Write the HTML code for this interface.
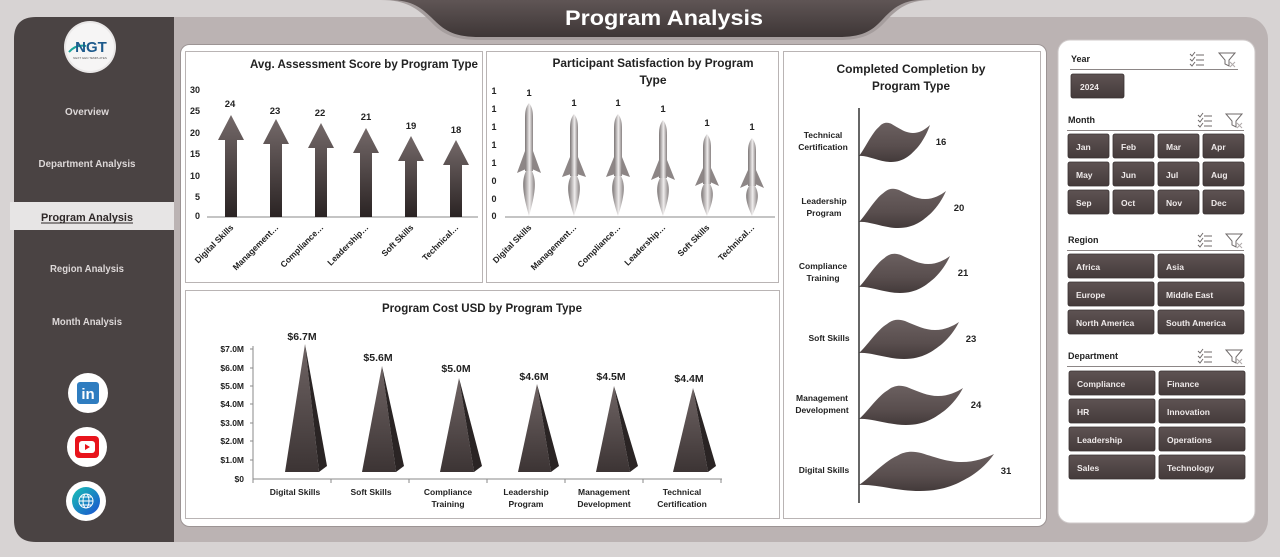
<!DOCTYPE html>
<html><head><meta charset="utf-8"><style>
html,body{margin:0;padding:0;background:#d7d3d3;}
svg{display:block;font-family:"Liberation Sans",Arial,sans-serif;}
</style></head><body>
<svg width="1280" height="557" viewBox="0 0 1280 557" xmlns="http://www.w3.org/2000/svg">
<defs>
<linearGradient id="gArrow" x1="0" y1="0" x2="0" y2="1"><stop offset="0" stop-color="#746969"/><stop offset="1" stop-color="#2a2323"/></linearGradient>
<linearGradient id="gRocket" x1="0" y1="0" x2="1" y2="0"><stop offset="0" stop-color="#7a7474"/><stop offset="0.45" stop-color="#d8d5d5"/><stop offset="0.55" stop-color="#f0eeee"/><stop offset="1" stop-color="#878181"/></linearGradient>
<linearGradient id="gPyr" x1="0" y1="0" x2="0" y2="1"><stop offset="0" stop-color="#6f6464"/><stop offset="1" stop-color="#3c3434"/></linearGradient>
<linearGradient id="gFlag" x1="0" y1="0" x2="0" y2="1"><stop offset="0" stop-color="#6b6060"/><stop offset="0.6" stop-color="#594e4e"/><stop offset="1" stop-color="#433a3a"/></linearGradient>
<linearGradient id="gBtn" x1="0" y1="0" x2="0" y2="1"><stop offset="0" stop-color="#5e5353"/><stop offset="1" stop-color="#443b3b"/></linearGradient>
<linearGradient id="gHead" x1="0" y1="0" x2="0" y2="1"><stop offset="0" stop-color="#5f5555"/><stop offset="1" stop-color="#3e3636"/></linearGradient>
<linearGradient id="gGlobe" x1="0" y1="0" x2="1" y2="1"><stop offset="0" stop-color="#19c3b5"/><stop offset="1" stop-color="#1a4fd0"/></linearGradient>
<path id="flag" d="M0,15 C8,8 18,-8 28,-14 C34,-19 40,-19 46,-17 C58,-12 66,-8 76,-8 C86,-8 94,-12 100,-16 C96,-8 90,0 83,6 C74,13 64,21 45,21 C28,21 12,14 0,15 Z"/>
</defs>

<rect x="0" y="0" width="1280" height="557" fill="#d7d3d3"/>
<rect x="14" y="17" width="1254" height="525" rx="22" fill="#bbb3b3"/>
<path d="M36,17 L174,17 L174,542 L36,542 Q14,542 14,520 L14,39 Q14,17 36,17 Z" fill="#4a4343"/>

<path d="M380,0 C406,0 417,8 430,21 C443,35 455,40 480,40 L838,40 C862,40 873,35 886,21 C898,8 909,0 932,0 Z" fill="#a59d9d"/>
<path d="M390,0 C412,0 422,8 434,20 C446,32 456,37 480,37 L838,37 C861,37 871,32 882,20 C893,8 903,0 922,0 Z" fill="url(#gHead)"/>
<text x="664" y="25" text-anchor="middle" font-size="21" font-weight="bold" fill="#ffffff" textLength="198" lengthAdjust="spacingAndGlyphs">Program  Analysis</text>

<circle cx="90" cy="47" r="26" fill="#e9e7e7"/>
<circle cx="90" cy="47" r="24" fill="#f6f5f5"/>
<path d="M69,52 Q76,44 86,46" stroke="#1aa59a" stroke-width="2" fill="none"/>
<text x="91" y="52" text-anchor="middle" font-size="15" font-weight="bold" fill="#1d5a8c">NGT</text>
<text x="90" y="59" text-anchor="middle" font-size="3" fill="#555">NEXT GEN TEMPLATES</text>

<g font-size="10.5" font-weight="bold" fill="#ddd8d8" text-anchor="middle">
<text x="87" y="115" textLength="44" lengthAdjust="spacingAndGlyphs">Overview</text>
<text x="87" y="167" textLength="97" lengthAdjust="spacingAndGlyphs">Department Analysis</text>
<text x="87" y="272" textLength="74" lengthAdjust="spacingAndGlyphs">Region Analysis</text>
<text x="87" y="325" textLength="70" lengthAdjust="spacingAndGlyphs">Month Analysis</text>
</g>
<rect x="10" y="202" width="164" height="28" fill="#e7e5e5"/>
<text x="87" y="221" text-anchor="middle" font-size="11" font-weight="bold" fill="#2e2828" textLength="92" lengthAdjust="spacingAndGlyphs">Program  Analysis</text>
<line x1="41" y1="223" x2="133" y2="223" stroke="#2e2828" stroke-width="1"/>

<circle cx="88" cy="393" r="20" fill="#ffffff"/>
<rect x="77" y="382" width="22" height="22" rx="3" fill="#2f7dc0"/>
<text x="88" y="399" text-anchor="middle" font-size="15" font-weight="bold" fill="#ffffff">in</text>
<circle cx="87" cy="447" r="20" fill="#ffffff"/>
<rect x="75" y="436" width="24" height="22" rx="4" fill="#e8141c"/>
<rect x="79" y="441" width="16" height="12" rx="3" fill="#ffffff"/>
<path d="M85,444 L90,447 L85,450 Z" fill="#e8141c"/>
<circle cx="86" cy="501" r="20" fill="#ffffff"/>
<circle cx="86" cy="501" r="14" fill="url(#gGlobe)"/>
<g stroke="#ffffff" stroke-width="1" fill="none"><circle cx="86" cy="501" r="7"/><ellipse cx="86" cy="501" rx="3" ry="7"/><line x1="79" y1="501" x2="93" y2="501"/><line x1="80" y1="497" x2="92" y2="497"/><line x1="80" y1="505" x2="92" y2="505"/></g>

<rect x="180.5" y="44.5" width="866" height="482" rx="9" fill="#ffffff" stroke="#9c9494"/>

<g fill="#ffffff" stroke="#b9b4b4">
<rect x="185.5" y="51.5" width="297" height="231"/>
<rect x="486.5" y="51.5" width="292" height="231"/>
<rect x="185.5" y="290.5" width="594" height="228"/>
<rect x="783.5" y="51.5" width="257" height="467"/>
</g>

<!-- Chart 1 -->
<text x="478" y="68" text-anchor="end" font-size="12" font-weight="bold" fill="#222" textLength="228" lengthAdjust="spacingAndGlyphs">Avg. Assessment Score by Program Type</text>
<g font-size="9" font-weight="bold" fill="#222" text-anchor="end">
<text x="200" y="93">30</text><text x="200" y="114">25</text><text x="200" y="136">20</text><text x="200" y="157">15</text><text x="200" y="179">10</text><text x="200" y="200">5</text><text x="200" y="219">0</text>
</g>
<line x1="207" y1="217" x2="478" y2="217" stroke="#8a8a8a"/>
<g fill="url(#gArrow)">
<path d="M231,115 L244,140 L237,140 L237,217 L225,217 L225,140 L218,140 Z"/>
<path d="M276,119 L289,144 L282,144 L282,217 L270,217 L270,144 L263,144 Z"/>
<path d="M321,123 L334,148 L327,148 L327,217 L315,217 L315,148 L308,148 Z"/>
<path d="M366,128 L379,153 L372,153 L372,217 L360,217 L360,153 L353,153 Z"/>
<path d="M411,136 L424,161 L417,161 L417,217 L405,217 L405,161 L398,161 Z"/>
<path d="M456,140 L469,165 L462,165 L462,217 L450,217 L450,165 L443,165 Z"/>
</g>
<g font-size="9.5" font-weight="bold" fill="#222" text-anchor="middle">
<text x="230" y="107">24</text><text x="275" y="114">23</text><text x="320" y="116">22</text><text x="366" y="120">21</text><text x="411" y="129">19</text><text x="456" y="133">18</text>
</g>
<g font-size="8.5" font-weight="bold" fill="#222" text-anchor="end">
<text transform="translate(234,228) rotate(-45)">Digital Skills</text>
<text transform="translate(279,228) rotate(-45)">Management…</text>
<text transform="translate(324,228) rotate(-45)">Compliance…</text>
<text transform="translate(369,228) rotate(-45)">Leadership…</text>
<text transform="translate(414,228) rotate(-45)">Soft Skills</text>
<text transform="translate(459,228) rotate(-45)">Technical…</text>
</g>

<!-- Chart 2 -->
<g font-size="12" font-weight="bold" fill="#222" text-anchor="middle">
<text x="653" y="67" textLength="201" lengthAdjust="spacingAndGlyphs">Participant Satisfaction by Program</text>
<text x="653" y="84">Type</text>
</g>
<g font-size="9" font-weight="bold" fill="#222" text-anchor="middle">
<text x="494" y="94">1</text><text x="494" y="112">1</text><text x="494" y="130">1</text><text x="494" y="148">1</text><text x="494" y="166">1</text><text x="494" y="184">0</text><text x="494" y="202">0</text><text x="494" y="219">0</text>
</g>
<line x1="505" y1="217" x2="775" y2="217" stroke="#8a8a8a"/>
<g>
<g transform="translate(529,103)">
<path d="M0,0 C4,5 4,10 4,18 L4,68 L-4,68 L-4,18 C-4,10 -4,5 0,0 Z" fill="url(#gRocket)"/>
<path d="M-4,48 L-12,70 L-3,66 Z M4,48 L12,70 L3,66 Z" fill="#8d8686"/>
<path d="M-3,68 C-8,78 -6,92 0,113 C6,92 8,78 3,68 Z" fill="url(#gRocket)"/>
</g>
<g transform="translate(574,114)">
<path d="M0,0 C4,5 4,10 4,18 L4,62 L-4,62 L-4,18 C-4,10 -4,5 0,0 Z" fill="url(#gRocket)"/>
<path d="M-4,43 L-12,63 L-3,60 Z M4,43 L12,63 L3,60 Z" fill="#8d8686"/>
<path d="M-3,62 C-8,71 -6,84 0,102 C6,84 8,71 3,62 Z" fill="url(#gRocket)"/>
</g>
<g transform="translate(618,114)">
<path d="M0,0 C4,5 4,10 4,18 L4,62 L-4,62 L-4,18 C-4,10 -4,5 0,0 Z" fill="url(#gRocket)"/>
<path d="M-4,43 L-12,63 L-3,60 Z M4,43 L12,63 L3,60 Z" fill="#8d8686"/>
<path d="M-3,62 C-8,71 -6,84 0,102 C6,84 8,71 3,62 Z" fill="url(#gRocket)"/>
</g>
<g transform="translate(663,120)">
<path d="M0,0 C4,5 4,10 4,18 L4,58 L-4,58 L-4,18 C-4,10 -4,5 0,0 Z" fill="url(#gRocket)"/>
<path d="M-4,40 L-12,60 L-3,56 Z M4,40 L12,60 L3,56 Z" fill="#8d8686"/>
<path d="M-3,58 C-8,67 -6,79 0,96 C6,79 8,67 3,58 Z" fill="url(#gRocket)"/>
</g>
<g transform="translate(707,134)">
<path d="M0,0 C4,5 4,10 4,16 L4,50 L-4,50 L-4,16 C-4,10 -4,5 0,0 Z" fill="url(#gRocket)"/>
<path d="M-4,34 L-12,52 L-3,48 Z M4,34 L12,52 L3,48 Z" fill="#8d8686"/>
<path d="M-3,50 C-8,58 -6,68 0,82 C6,68 8,58 3,50 Z" fill="url(#gRocket)"/>
</g>
<g transform="translate(752,138)">
<path d="M0,0 C4,5 4,10 4,16 L4,48 L-4,48 L-4,16 C-4,10 -4,5 0,0 Z" fill="url(#gRocket)"/>
<path d="M-4,32 L-12,50 L-3,46 Z M4,32 L12,50 L3,46 Z" fill="#8d8686"/>
<path d="M-3,48 C-8,56 -6,65 0,78 C6,65 8,56 3,48 Z" fill="url(#gRocket)"/>
</g>
</g>
<g font-size="9.5" font-weight="bold" fill="#222" text-anchor="middle">
<text x="529" y="96">1</text><text x="574" y="106">1</text><text x="618" y="106">1</text><text x="663" y="112">1</text><text x="707" y="126">1</text><text x="752" y="130">1</text>
</g>
<g font-size="8.5" font-weight="bold" fill="#222" text-anchor="end">
<text transform="translate(532,228) rotate(-45)">Digital Skills</text>
<text transform="translate(577,228) rotate(-45)">Management…</text>
<text transform="translate(621,228) rotate(-45)">Compliance…</text>
<text transform="translate(666,228) rotate(-45)">Leadership…</text>
<text transform="translate(710,228) rotate(-45)">Soft Skills</text>
<text transform="translate(755,228) rotate(-45)">Technical…</text>
</g>

<!-- Chart 3 -->
<text x="482" y="312" text-anchor="middle" font-size="12" font-weight="bold" fill="#222" textLength="200" lengthAdjust="spacingAndGlyphs">Program Cost USD by Program Type</text>
<g font-size="8.5" font-weight="bold" fill="#222" text-anchor="end">
<text x="244" y="352">$7.0M</text><text x="244" y="371">$6.0M</text><text x="244" y="389">$5.0M</text><text x="244" y="407">$4.0M</text><text x="244" y="426">$3.0M</text><text x="244" y="444">$2.0M</text><text x="244" y="463">$1.0M</text><text x="244" y="482">$0</text>
</g>
<g stroke="#8a8a8a">
<line x1="253" y1="346" x2="253" y2="479"/>
<line x1="250" y1="349" x2="253" y2="349"/><line x1="250" y1="368" x2="253" y2="368"/><line x1="250" y1="386" x2="253" y2="386"/><line x1="250" y1="404" x2="253" y2="404"/><line x1="250" y1="423" x2="253" y2="423"/><line x1="250" y1="441" x2="253" y2="441"/><line x1="250" y1="460" x2="253" y2="460"/>
<line x1="253" y1="479" x2="722" y2="479"/>
<line x1="253" y1="479" x2="253" y2="483"/><line x1="331" y1="479" x2="331" y2="483"/><line x1="409" y1="479" x2="409" y2="483"/><line x1="487" y1="479" x2="487" y2="483"/><line x1="565" y1="479" x2="565" y2="483"/><line x1="643" y1="479" x2="643" y2="483"/><line x1="721" y1="479" x2="721" y2="483"/>
</g>
<g>
<path d="M285,472 L319,472 L305,344 Z" fill="url(#gPyr)"/><path d="M319,472 L327,466 L305,344 Z" fill="#2a2424"/>
<path d="M362,472 L396,472 L382,366 Z" fill="url(#gPyr)"/><path d="M396,472 L404,466 L382,366 Z" fill="#2a2424"/>
<path d="M440,472 L474,472 L459,378 Z" fill="url(#gPyr)"/><path d="M474,472 L482,466 L459,378 Z" fill="#2a2424"/>
<path d="M518,472 L551,472 L537,384 Z" fill="url(#gPyr)"/><path d="M551,472 L559,466 L537,384 Z" fill="#2a2424"/>
<path d="M596,472 L630,472 L614,386 Z" fill="url(#gPyr)"/><path d="M630,472 L638,466 L614,386 Z" fill="#2a2424"/>
<path d="M673,472 L708,472 L693,388 Z" fill="url(#gPyr)"/><path d="M708,472 L716,466 L693,388 Z" fill="#2a2424"/>
</g>
<g font-size="10.5" font-weight="bold" fill="#222" text-anchor="middle">
<text x="302" y="340">$6.7M</text><text x="378" y="361">$5.6M</text><text x="456" y="372">$5.0M</text><text x="534" y="380">$4.6M</text><text x="611" y="380">$4.5M</text><text x="689" y="382">$4.4M</text>
</g>
<g font-size="8.5" font-weight="bold" fill="#222" text-anchor="middle">
<text x="295" y="495">Digital Skills</text>
<text x="371" y="495">Soft Skills</text>
<text x="448" y="495">Compliance</text><text x="448" y="507">Training</text>
<text x="526" y="495">Leadership</text><text x="526" y="507">Program</text>
<text x="604" y="495">Management</text><text x="604" y="507">Development</text>
<text x="682" y="495">Technical</text><text x="682" y="507">Certification</text>
</g>

<!-- Chart 4 -->
<g font-size="12" font-weight="bold" fill="#222" text-anchor="middle">
<text x="911" y="73" textLength="149" lengthAdjust="spacingAndGlyphs">Completed Completion by</text>
<text x="911" y="90" textLength="78" lengthAdjust="spacingAndGlyphs">Program Type</text>
</g>
<g fill="url(#gFlag)">
<use href="#flag" transform="translate(859,141) scale(0.71,1)"/>
<use href="#flag" transform="translate(859,207) scale(0.87,1)"/>
<use href="#flag" transform="translate(859,272) scale(0.91,1)"/>
<use href="#flag" transform="translate(859,338) scale(1.00,1)"/>
<use href="#flag" transform="translate(859,404) scale(1.04,1)"/>
<use href="#flag" transform="translate(859,470) scale(1.35,1)"/>
</g>
<line x1="859" y1="108" x2="859" y2="503" stroke="#333" stroke-width="1.5"/>
<g font-size="8.5" font-weight="bold" fill="#222" text-anchor="middle">
<text x="823" y="138">Technical</text><text x="823" y="150">Certification</text>
<text x="824" y="204">Leadership</text><text x="824" y="216">Program</text>
<text x="823" y="269">Compliance</text><text x="823" y="281">Training</text>
<text x="829" y="341">Soft Skills</text>
<text x="822" y="401">Management</text><text x="822" y="413">Development</text>
<text x="824" y="473">Digital Skills</text>
</g>
<g font-size="9.5" font-weight="bold" fill="#222" text-anchor="middle">
<text x="941" y="145">16</text><text x="959" y="211">20</text><text x="963" y="276">21</text><text x="971" y="342">23</text><text x="976" y="408">24</text><text x="1006" y="474">31</text>
</g>

<!-- Slicer panel -->
<rect x="1058" y="40" width="197" height="483" rx="12" fill="#ffffff" stroke="#cfcaca"/>
<g font-size="9" font-weight="bold" fill="#222">
<text x="1071" y="62">Year</text>
<text x="1068" y="123">Month</text>
<text x="1068" y="243">Region</text>
<text x="1068" y="359">Department</text>
</g>
<g stroke="#8c8686" stroke-width="1">
<line x1="1070" y1="69.5" x2="1238" y2="69.5"/>
<line x1="1067" y1="130.5" x2="1244" y2="130.5"/>
<line x1="1067" y1="250.5" x2="1244" y2="250.5"/>
<line x1="1067" y1="366.5" x2="1245" y2="366.5"/>
</g>
<g stroke="#6f6a6a" stroke-width="1" fill="none">
<g transform="translate(1197,59)"><path d="M-7,-5 l2,2 l3,-4 M-7,0 l2,2 l3,-4 M-7,5 l2,2 l3,-4"/><line x1="-1" y1="-4" x2="7" y2="-4"/><line x1="-1" y1="1" x2="7" y2="1"/><line x1="-1" y1="6" x2="7" y2="6"/></g>
<g transform="translate(1227,59)"><path d="M-8,-6 L8,-6 L2,1 L2,7 L-2,5 L-2,1 Z"/><path d="M3,3 l5,5 M8,3 l-5,5" stroke="#b0aaaa"/></g>
<g transform="translate(1205,120)"><path d="M-7,-5 l2,2 l3,-4 M-7,0 l2,2 l3,-4 M-7,5 l2,2 l3,-4"/><line x1="-1" y1="-4" x2="7" y2="-4"/><line x1="-1" y1="1" x2="7" y2="1"/><line x1="-1" y1="6" x2="7" y2="6"/></g>
<g transform="translate(1234,120)"><path d="M-8,-6 L8,-6 L2,1 L2,7 L-2,5 L-2,1 Z"/><path d="M3,3 l5,5 M8,3 l-5,5" stroke="#b0aaaa"/></g>
<g transform="translate(1205,240)"><path d="M-7,-5 l2,2 l3,-4 M-7,0 l2,2 l3,-4 M-7,5 l2,2 l3,-4"/><line x1="-1" y1="-4" x2="7" y2="-4"/><line x1="-1" y1="1" x2="7" y2="1"/><line x1="-1" y1="6" x2="7" y2="6"/></g>
<g transform="translate(1234,240)"><path d="M-8,-6 L8,-6 L2,1 L2,7 L-2,5 L-2,1 Z"/><path d="M3,3 l5,5 M8,3 l-5,5" stroke="#b0aaaa"/></g>
<g transform="translate(1205,356)"><path d="M-7,-5 l2,2 l3,-4 M-7,0 l2,2 l3,-4 M-7,5 l2,2 l3,-4"/><line x1="-1" y1="-4" x2="7" y2="-4"/><line x1="-1" y1="1" x2="7" y2="1"/><line x1="-1" y1="6" x2="7" y2="6"/></g>
<g transform="translate(1234,356)"><path d="M-8,-6 L8,-6 L2,1 L2,7 L-2,5 L-2,1 Z"/><path d="M3,3 l5,5 M8,3 l-5,5" stroke="#b0aaaa"/></g>
</g>
<g fill="url(#gBtn)" stroke="#3a3232" stroke-width="0.8">
<rect x="1071" y="74" width="53" height="24" rx="2"/>
<rect x="1068" y="134" width="41" height="24" rx="2"/><rect x="1113" y="134" width="41" height="24" rx="2"/><rect x="1158" y="134" width="41" height="24" rx="2"/><rect x="1203" y="134" width="41" height="24" rx="2"/>
<rect x="1068" y="162" width="41" height="24" rx="2"/><rect x="1113" y="162" width="41" height="24" rx="2"/><rect x="1158" y="162" width="41" height="24" rx="2"/><rect x="1203" y="162" width="41" height="24" rx="2"/>
<rect x="1068" y="190" width="41" height="24" rx="2"/><rect x="1113" y="190" width="41" height="24" rx="2"/><rect x="1158" y="190" width="41" height="24" rx="2"/><rect x="1203" y="190" width="41" height="24" rx="2"/>
<rect x="1068" y="254" width="86" height="24" rx="2"/><rect x="1158" y="254" width="86" height="24" rx="2"/>
<rect x="1068" y="282" width="86" height="24" rx="2"/><rect x="1158" y="282" width="86" height="24" rx="2"/>
<rect x="1068" y="310" width="86" height="24" rx="2"/><rect x="1158" y="310" width="86" height="24" rx="2"/>
<rect x="1069" y="371" width="86" height="24" rx="2"/><rect x="1159" y="371" width="86" height="24" rx="2"/>
<rect x="1069" y="399" width="86" height="24" rx="2"/><rect x="1159" y="399" width="86" height="24" rx="2"/>
<rect x="1069" y="427" width="86" height="24" rx="2"/><rect x="1159" y="427" width="86" height="24" rx="2"/>
<rect x="1069" y="455" width="86" height="24" rx="2"/><rect x="1159" y="455" width="86" height="24" rx="2"/>
</g>
<g font-size="8.5" font-weight="bold" fill="#efeaea">
<text x="1080" y="90">2024</text>
<text x="1076" y="150">Jan</text><text x="1121" y="150">Feb</text><text x="1166" y="150">Mar</text><text x="1211" y="150">Apr</text>
<text x="1076" y="178">May</text><text x="1121" y="178">Jun</text><text x="1166" y="178">Jul</text><text x="1211" y="178">Aug</text>
<text x="1076" y="206">Sep</text><text x="1121" y="206">Oct</text><text x="1166" y="206">Nov</text><text x="1211" y="206">Dec</text>
<text x="1076" y="270">Africa</text><text x="1166" y="270">Asia</text>
<text x="1076" y="298">Europe</text><text x="1166" y="298">Middle East</text>
<text x="1076" y="326">North America</text><text x="1166" y="326">South America</text>
<text x="1077" y="387">Compliance</text><text x="1167" y="387">Finance</text>
<text x="1077" y="415">HR</text><text x="1167" y="415">Innovation</text>
<text x="1077" y="443">Leadership</text><text x="1167" y="443">Operations</text>
<text x="1077" y="471">Sales</text><text x="1167" y="471">Technology</text>
</g>
</svg>
</body></html>
